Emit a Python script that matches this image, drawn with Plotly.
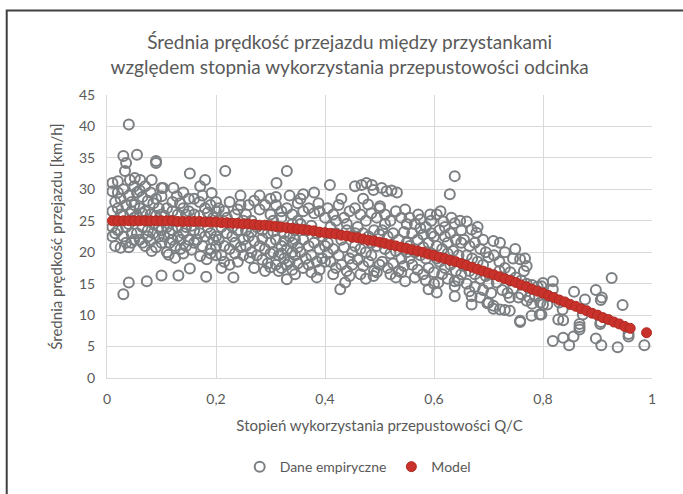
import plotly.graph_objects as go

band_a_x = [0.01,0.02,0.033,0.042,0.04,0.03,0.055,0.035,0.03,0.04, 0.01,0.015,0.02,0.025,0.01,0.02,0.03,0.015,0.025,0.035,
            0.04,0.045,0.035,0.045,0.04,0.045,0.05,0.04,0.03,0.01, 0.02,0.03,0.05,0.015,0.045,0.01,0.025,0.05,0.05,0.035]
band_a_y = [31.0,31.3,32.9,31.5,40.3,35.3,35.5,34.2,13.3,15.2, 29.7,28.0,27.0,26.0,24.0,23.5,22.5,21.0,20.7,21.5,
            29.0,28.0,27.5,26.5,24.5,23.0,22.0,20.8,25.8,26.5, 29.5,30.0,30.5,23.0,21.5,22.5,28.5,27.5,25.5,24.0]
band_b_x = [0.051,0.061,0.082,0.09,0.09,0.073,0.055,0.065,0.075,0.085, 0.06,0.07,0.08,0.095,0.055,0.065,0.075,0.085,0.095,0.06,
            0.07,0.08,0.082,0.09,0.1,0.055,0.065,0.075,0.085,0.095, 0.06,0.07,0.08,0.09,0.1,0.1,0.1,0.1,0.065,0.09]
band_b_y = [31.8,31.5,31.5,34.5,34.2,15.4,29.5,28.8,28.2,27.8, 27.0,26.5,26.0,27.0,25.8,24.0,23.5,23.0,22.5,22.0,
            21.0,21.8,20.2,20.8,21.5,23.0,21.5,22.5,24.5,24.0, 29.8,30.5,29.5,28.5,26.0,23.5,28.9,30.2,26.2,25.8]
band_c_x = [0.103,0.122,0.128,0.134,0.113,0.125,0.1,0.131,0.11,0.12, 0.13,0.14,0.145,0.11,0.12,0.13,0.14,0.15,0.105,0.115,
            0.125,0.135,0.145,0.11,0.14,0.12,0.14,0.15,0.13,0.105, 0.115,0.135,0.145,0.15,0.12]
band_c_y = [30.2,30.2,28.9,27.8,19.6,19.1,16.3,16.3,27.0,26.5, 26.0,27.0,26.0,24.0,23.5,22.5,23.0,22.0,22.5,21.5,
            21.0,20.5,21.0,20.0,19.8,28.0,29.5,28.5,24.0,25.8, 23.0,22.0,24.0,26.5,22.0]
band_d_x = [0.152,0.171,0.18,0.192,0.155,0.171,0.183,0.152,0.182,0.16, 0.17,0.18,0.19,0.2,0.16,0.17,0.185,0.195,0.16,0.17,
            0.18,0.19,0.2,0.16,0.175,0.19,0.2,0.165,0.185,0.195, 0.155,0.2,0.175,0.19,0.2]
band_d_y = [32.5,30.5,31.5,29.4,20.4,19.4,18.9,17.4,16.1,28.5, 28.0,27.0,27.5,28.0,26.0,25.8,26.3,25.5,23.5,23.0,
            22.5,23.0,22.5,21.5,21.0,20.5,21.0,22.0,24.0,22.0, 24.2,26.5,29.0,19.8,19.5]
band_e_x = [0.217,0.232,0.21,0.205,0.215,0.225,0.235,0.245,0.21,0.22, 0.23,0.24,0.25,0.205,0.215,0.225,0.235,0.245,0.21,0.24,
            0.22,0.25,0.23,0.245,0.215,0.235,0.25,0.205,0.225,0.24]
band_e_y = [32.9,16.0,17.5,27.0,26.5,28.0,26.0,27.5,24.0,23.0, 22.5,23.5,22.0,22.0,21.0,20.5,19.8,20.8,19.5,18.5,
            25.5,25.0,24.0,29.0,18.5,21.5,19.5,25.0,18.0,26.8]
band_f_x = [0.262,0.26,0.27,0.28,0.29,0.3,0.255,0.265,0.275,0.285, 0.295,0.26,0.27,0.28,0.29,0.3,0.255,0.265,0.275,0.285,
            0.295,0.3,0.27,0.29,0.28,0.3,0.255,0.285,0.265,0.3]
band_f_y = [19.1,27.5,28.2,26.8,27.5,26.0,26.0,25.0,24.0,23.5, 23.0,22.5,21.8,21.0,20.5,21.5,21.0,20.0,19.5,18.8,
            18.2,19.8,17.5,17.0,29.0,28.5,23.5,22.2,23.2,17.6]
band_g_x = [0.33,0.311,0.33,0.31,0.32,0.33,0.34,0.35,0.305,0.315, 0.325,0.335,0.345,0.31,0.32,0.33,0.34,0.35,0.305,0.315,
            0.325,0.335,0.345,0.31,0.32,0.33,0.34,0.35,0.315,0.345, 0.32,0.34,0.35,0.31,0.335,0.345,0.325,0.305,0.34,0.32]
band_g_y = [32.9,31.0,15.7,27.5,26.5,27.0,26.0,27.8,25.0,24.0, 23.0,22.5,23.5,22.0,21.0,20.5,21.5,20.8,20.0,19.5,
            19.0,18.5,19.5,18.0,17.5,18.0,17.2,18.2,17.0,22.0, 25.5,24.5,25.0,28.8,29.0,16.5,21.8,23.3,20.0,19.8]
band_h_x = [0.36,0.388,0.385,0.38,0.355,0.36,0.37,0.38,0.39,0.4, 0.355,0.365,0.375,0.385,0.395,0.36,0.37,0.38,0.39,0.4,
            0.355,0.365,0.375,0.385,0.395,0.36,0.37,0.39,0.4,0.375]
band_h_y = [29.2,27.8,16.0,29.5,28.5,26.5,27.0,26.2,26.5,25.5, 24.5,23.5,24.2,23.0,22.5,22.0,21.0,21.5,20.5,21.0,
            20.0,19.0,19.5,18.5,19.0,17.5,18.0,17.2,18.5,16.8]
band_i_x = [0.409,0.428,0.437,0.405,0.415,0.425,0.435,0.445,0.41,0.42, 0.43,0.44,0.45,0.405,0.415,0.425,0.435,0.445,0.41,0.42,
            0.43,0.44,0.45,0.415,0.445,0.42,0.44,0.43,0.45,0.405]
band_i_y = [30.7,14.1,15.2,27.0,26.0,27.5,25.5,26.5,24.0,23.0, 22.0,23.5,22.5,21.5,20.5,19.5,20.8,19.0,18.5,17.5,
            18.0,17.0,18.0,16.5,16.2,25.0,24.5,28.5,20.0,19.8]
band_j_x = [0.455,0.467,0.476,0.486,0.489,0.479,0.489,0.455,0.465,0.475, 0.485,0.495,0.46,0.47,0.48,0.49,0.5,0.455,0.465,0.475,
            0.485,0.495,0.46,0.47,0.48,0.49,0.5,0.465,0.475,0.495, 0.47,0.5,0.455,0.485]
band_j_y = [30.5,30.7,31.0,30.7,29.9,27.6,16.2,27.0,26.0,25.0, 26.2,25.5,24.0,23.0,22.5,23.5,22.8,21.0,20.5,20.0,
            19.5,21.0,18.8,17.8,18.5,17.0,18.0,16.5,15.8,16.8, 28.5,27.0,23.0,21.5]
band_k_x = [0.504,0.513,0.522,0.532,0.501,0.547,0.547,0.51,0.52,0.53, 0.54,0.55,0.505,0.515,0.525,0.535,0.545,0.51,0.52,0.53,
            0.54,0.55,0.505,0.515,0.525,0.535,0.545,0.52,0.53,0.54, 0.51,0.55]
band_k_y = [30.2,29.7,29.8,29.5,27.3,26.8,15.4,26.0,25.0,26.5, 25.5,24.5,23.5,22.5,23.0,22.0,23.2,20.5,19.8,20.2,
            19.0,20.0,18.5,17.5,18.2,17.0,17.8,16.5,16.0,16.8, 24.5,21.5]
band_l_x = [0.571,0.593,0.59,0.555,0.565,0.575,0.585,0.595,0.56,0.57, 0.58,0.59,0.6,0.555,0.565,0.575,0.585,0.595,0.56,0.57,
            0.58,0.59,0.6,0.565,0.585,0.6,0.575,0.555,0.595,0.58]
band_l_y = [26.0,26.0,14.1,25.5,24.5,25.2,24.0,25.0,23.0,22.0, 22.8,21.5,22.5,21.0,20.0,19.5,19.0,19.8,18.0,17.2,
            16.5,17.5,16.8,16.0,15.5,15.0,23.8,19.0,23.0,20.8]
band_m_x = [0.638,0.629,0.605,0.608,0.638,0.638,0.638,0.617,0.638,0.605, 0.61,0.62,0.63,0.64,0.65,0.605,0.615,0.625,0.635,0.645,
            0.61,0.62,0.63,0.64,0.65,0.615,0.625,0.645,0.62,0.65, 0.612,0.632,0.648,0.605,0.625]
band_m_y = [32.1,29.2,13.6,15.2,15.4,14.6,13.0,24.9,24.6,26.0, 23.5,22.5,23.0,22.0,21.5,21.0,20.5,19.8,20.2,19.5,
            18.5,17.5,18.0,17.0,16.5,16.5,15.8,15.5,24.0,23.5, 26.5,25.5,25.0,19.0,21.5]
band_n_x = [0.66,0.669,0.678,0.669,0.669,0.655,0.665,0.675,0.685,0.695, 0.66,0.67,0.68,0.69,0.7,0.655,0.665,0.675,0.685,0.695,
            0.66,0.675,0.69,0.7,0.665,0.685,0.698,0.69,0.68,0.7]
band_n_y = [24.9,23.6,23.1,13.0,11.7,22.0,21.0,21.5,20.5,20.0, 19.5,19.0,18.5,18.0,19.2,17.8,17.0,16.5,15.8,16.2,
            15.0,14.5,14.0,15.0,13.8,12.8,11.9,22.0,24.0,12.0]
band_o_x = [0.709,0.721,0.749,0.758,0.767,0.77,0.709,0.709,0.721,0.73, 0.739,0.758,0.779,0.794,0.755,0.77,0.739,0.758,0.71,0.72,
            0.73,0.74,0.75,0.76,0.77,0.78,0.79,0.8,0.715,0.725, 0.735,0.745,0.76,0.775,0.785,0.795,0.72,0.73,0.745,0.78,
            0.8,0.765,0.705,0.74]
band_o_y = [21.8,21.5,20.5,18.9,19.0,17.8,11.5,11.0,10.9,10.8, 10.7,9.1,9.9,10.1,12.8,12.3,12.8,8.9,19.5,18.5,
            17.5,16.8,16.0,15.5,15.0,14.8,14.5,15.1,15.2,14.0, 13.5,14.2,13.3,12.8,13.0,12.0,17.0,20.0,19.0,11.8,
            11.7,17.0,13.5,15.5]
band_p_x = [0.797,0.818,0.818,0.797,0.808,0.828,0.837,0.836,0.818,0.837, 0.848,0.856,0.857,0.867,0.867,0.867,0.877,0.873,0.897,0.906,
            0.908,0.906,0.897,0.907,0.926,0.937,0.946,0.957,0.957,0.986, 0.905,0.81,0.83]
band_p_y = [14.6,15.4,14.1,10.1,11.7,9.3,9.2,10.9,5.9,6.4, 5.2,6.6,13.7,8.6,8.1,7.7,12.5,10.1,14.0,12.4,
            12.8,8.9,6.3,5.2,15.9,4.9,11.6,7.0,6.6,5.2, 8.6,13.0,12.0]

# model curve
model_x = [0.01,0.02,0.03,0.04,0.05,0.06,0.07,0.08,0.09,0.10,0.11,0.12,0.13,0.14,0.15,0.16,0.17,0.18,0.19,0.20,
           0.21,0.22,0.23,0.24,0.25,0.26,0.27,0.28,0.29,0.30,0.31,0.32,0.33,0.34,0.35,0.36,0.37,0.38,0.39,0.40,
           0.41,0.42,0.43,0.44,0.45,0.46,0.47,0.48,0.49,0.50,0.51,0.52,0.53,0.54,0.55,0.56,0.57,0.58,0.59,0.60,
           0.61,0.62,0.63,0.64,0.65,0.66,0.67,0.68,0.69,0.70,0.71,0.72,0.73,0.74,0.75,0.76,0.77,0.78,0.79,0.80,
           0.81,0.82,0.83,0.84,0.85,0.86,0.87,0.88,0.89,0.90,0.91,0.92,0.93,0.94,0.95,0.96,0.99]
model_y = [25.0,25.0,25.0,25.0,25.0,25.0,25.0,25.0,25.0,25.0,25.0,25.0,24.9,24.9,24.9,24.9,24.9,24.8,24.8,24.8,
           24.7,24.7,24.6,24.6,24.5,24.5,24.4,24.3,24.3,24.2,24.1,24.0,23.9,23.8,23.7,23.6,23.5,23.4,23.2,23.1,
           23.0,22.9,22.7,22.6,22.4,22.3,22.1,21.9,21.8,21.6,21.4,21.2,21.0,20.8,20.6,20.4,20.2,20.0,19.7,19.5,
           19.2,19.0,18.7,18.5,18.2,17.9,17.6,17.3,17.0,16.7,16.4,16.1,15.8,15.5,15.2,14.8,14.5,14.1,13.8,13.5,
           13.1,12.8,12.4,12.1,11.7,11.4,11.0,10.7,10.3,10.0,9.6,9.3,8.9,8.6,8.2,7.9,7.2]

bands_x = [band_a_x, band_b_x, band_c_x, band_d_x, band_e_x, band_f_x, band_g_x, band_h_x,
           band_i_x, band_j_x, band_k_x, band_l_x, band_m_x, band_n_x, band_o_x, band_p_x]
bands_y = [band_a_y, band_b_y, band_c_y, band_d_y, band_e_y, band_f_y, band_g_y, band_h_y,
           band_i_y, band_j_y, band_k_y, band_l_y, band_m_y, band_n_y, band_o_y, band_p_y]
emp_x, emp_y = [], []
for bx, by in zip(bands_x, bands_y):
    assert len(bx) == len(by), (len(bx), len(by))
    emp_x += bx
    emp_y += by

gray = '#595959'
font = 'Lato'

fig = go.Figure()
fig.add_trace(go.Scatter(
    x=emp_x, y=emp_y, mode='markers', name='Dane empiryczne',
    marker=dict(symbol='circle-open', size=10, color='#7b7f82', line=dict(width=2)),
))
fig.add_trace(go.Scatter(
    x=model_x, y=model_y, mode='markers', name='Model',
    marker=dict(size=10, color='#c9322b', line=dict(color='#b02a22', width=1)),
))

fig.update_layout(
    width=683, height=494,
    margin=dict(l=107, r=31, t=95, b=115),
    paper_bgcolor='white', plot_bgcolor='white',
    separators=', ',
    font=dict(family=font, color=gray, size=14),
    title=dict(
        text='Średnia prędkość przejazdu między przystankami<br>względem stopnia wykorzystania przepustowości odcinka',
        x=0.512, xanchor='center', y=0.9, yanchor='middle',
        font=dict(size=19, color=gray, family=font),
    ),
    xaxis=dict(
        range=[0, 1], dtick=0.2, tick0=0, showgrid=True, gridcolor='#d9d9d9',
        zeroline=False, showline=True, linecolor='#d9d9d9',
        ticks='', ticklabelstandoff=8, tickfont=dict(size=14, color=gray),
        title=dict(text='Stopień wykorzystania przepustowości Q/C', font=dict(size=15, color=gray), standoff=14),
    ),
    yaxis=dict(
        range=[0, 45], dtick=5, showgrid=True, gridcolor='#d9d9d9',
        zeroline=False, showline=True, linecolor='#d9d9d9',
        ticks='', ticklabelstandoff=8, tickfont=dict(size=14, color=gray),
        title=dict(text='Średnia prędkość przejazdu [km/h]', font=dict(size=15, color=gray), standoff=12),
    ),
    legend=dict(
        orientation='h', x=0.46, xanchor='center', y=-0.31, yanchor='middle',
        font=dict(size=14, color=gray), itemwidth=30,
    ),
    shapes=[dict(type='rect', xref='paper', yref='paper', x0=-0.184, y0=-0.6, x1=1.2, y1=1.299,
                 line=dict(color='#404040', width=2), layer='below')],
)

fig.write_html("out.html", config={'displayModeBar': False},
               post_script="document.body.style.margin='0';")
